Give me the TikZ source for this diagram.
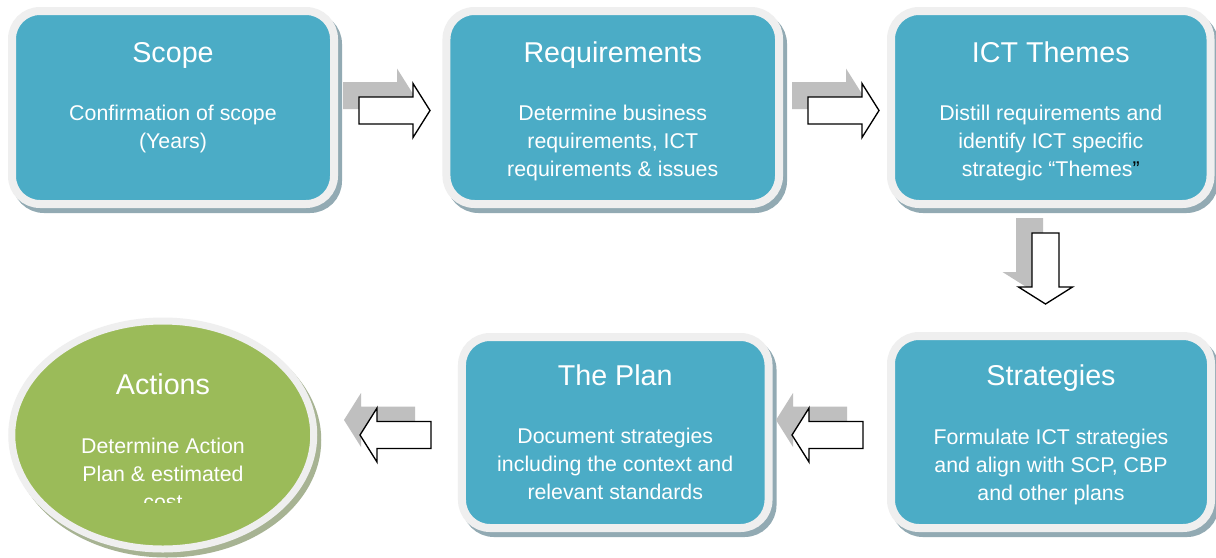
\documentclass[tikz,border=0pt]{standalone}
\usepackage{fontspec}
\setmainfont{Liberation Sans}
\usetikzlibrary{shapes.geometric,shadows,calc}
\definecolor{teal1}{HTML}{4BACC6}
\definecolor{rim}{HTML}{EFEFEF}
\definecolor{boxshadow}{HTML}{92AAB3}
\definecolor{green1}{HTML}{9BBB59}
\definecolor{ellshadow}{HTML}{A7B393}
\definecolor{arrowgray}{HTML}{BFBFBF}
\newcommand{\bstrut}{\rule{0pt}{15pt}}
\begin{document}
\begin{tikzpicture}[x=0.75pt,y=-0.75pt,
  stagebox/.style={rectangle, rounded corners=21pt, fill=teal1, draw=rim, line width=6pt, inner sep=0pt,
     drop shadow={shadow xshift=3pt, shadow yshift=-3.75pt, fill=boxshadow, draw=boxshadow, line width=6pt, opacity=1}},
  actionell/.style={ellipse, fill=green1, draw=rim, line width=5.25pt, inner sep=0pt,
     minimum width=226.5pt, minimum height=171pt,
     drop shadow={shadow xshift=3pt, shadow yshift=-3.75pt, fill=ellshadow, draw=ellshadow, line width=5.25pt, opacity=1}},
  titletext/.style={text=white, inner sep=0pt, font=\fontsize{21.5pt}{25pt}\selectfont},
  bodytext/.style={text=white, inner sep=0pt, align=center, font=\fontsize{16pt}{21pt}\selectfont},
  arrowshadow/.style={fill=arrowgray, draw=none},
  arrowface/.style={fill=white, draw=black, line width=1pt, line join=miter},
  blockarrow/.pic={\path[pic actions] (-35.5,-13.5) -- (18.5,-13.5) -- (18.5,-27) -- (35.5,0) -- (18.5,27) -- (18.5,13.5) -- (-35.5,13.5) -- cycle;}
]
% canvas
\fill[white] (0,0) rectangle (1216,557);
\useasboundingbox (0,0) rectangle (1216,557);

% boxes
\node[stagebox, minimum width=241.5pt, minimum height=144.75pt] (scope) at (173,107.5) {};
\node[stagebox, minimum width=249.4pt, minimum height=144.75pt] (req) at (612.75,107.5) {};
\node[stagebox, minimum width=239.6pt, minimum height=144.75pt] (ict) at (1050.75,107.5) {};
\node[stagebox, minimum width=229.9pt, minimum height=143.25pt] (plan) at (615.25,432.5) {};
\node[stagebox, minimum width=240pt, minimum height=144pt] (strat) at (1051,432) {};
\node[actionell] (act) at (162.75,435) {};

% texts
\node[titletext, anchor=base] (scopeT) at (173,62) {Scope};
\node[bodytext, anchor=north] (scopeB) at (173,100) {\bstrut Confirmation of scope\\(Years)};

\node[titletext, anchor=base] (reqT) at (612.75,62) {Requirements};
\node[bodytext, anchor=north] (reqB) at (612.75,100) {\bstrut Determine business\\requirements, ICT\\requirements \& issues};

\node[titletext, anchor=base] (ictT) at (1050.75,62) {ICT Themes};
\node[bodytext, anchor=north] (ictB) at (1050.75,100) {\bstrut Distill requirements and\\identify ICT specific\\strategic “Themes{\color{black}”}};

\node[titletext, anchor=base] (planT) at (615.25,385) {The Plan};
\node[bodytext, anchor=north] (planB) at (615.25,423) {\bstrut Document strategies\\including the context and\\relevant standards};

\node[titletext, anchor=base] (stratT) at (1051,385) {Strategies};
\node[bodytext, anchor=north] (stratB) at (1051,424) {\bstrut Formulate ICT strategies\\and align with SCP, CBP\\and other plans};

\node[titletext, anchor=base] (actT) at (163,394) {Actions};
\begin{scope}
  \clip (0,0) rectangle (1216,502);
  \node[bodytext, anchor=north] (actB) at (163,433) {\bstrut Determine Action\\Plan \& estimated\\cost};
\end{scope}

% block arrows
\coordinate (a1) at (394.5,110.5);
\coordinate (a2) at (843.5,110.5);
\coordinate (a3) at (1045.5,268.5);
\coordinate (a4) at (827.5,435);
\coordinate (a5) at (395.5,435);

\pic[arrowshadow] at ($(a1)+(-16,-15)$) {blockarrow};
\pic[arrowface] at (a1) {blockarrow};
\pic[arrowshadow] at ($(a2)+(-16,-15)$) {blockarrow};
\pic[arrowface] at (a2) {blockarrow};
\pic[arrowshadow, rotate=-90] at ($(a3)+(-16,-15)$) {blockarrow};
\pic[arrowface, rotate=-90] at (a3) {blockarrow};
\pic[arrowshadow, rotate=180] at ($(a4)+(-16,-15)$) {blockarrow};
\pic[arrowface, rotate=180] at (a4) {blockarrow};
\pic[arrowshadow, rotate=180] at ($(a5)+(-16,-15)$) {blockarrow};
\pic[arrowface, rotate=180] at (a5) {blockarrow};
\end{tikzpicture}
\end{document}
